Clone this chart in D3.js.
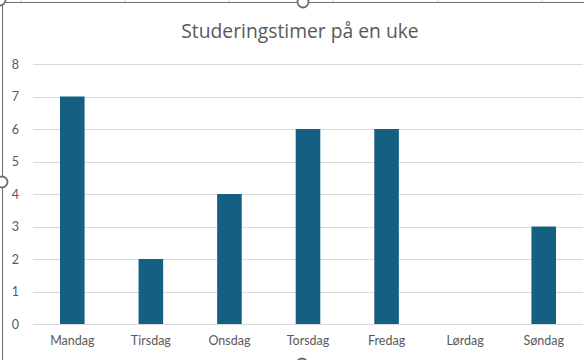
<!DOCTYPE html>
<html><head><meta charset="utf-8">
<script src="https://cdn.jsdelivr.net/npm/d3@7/dist/d3.min.js"></script>
<style>body{margin:0;background:#fff;}svg{display:block;}</style>
</head><body>
<script>
const categories = ["Mandag","Tirsdag","Onsdag","Torsdag","Fredag","Lørdag","Søndag"];
const values = [7,2,4,6,6,0,3];
const yTicks = [0,1,2,3,4,5,6,7,8];
const title = "Studeringstimer på en uke";

const W = 585, H = 360;
const svg = d3.select("body").append("svg").attr("width", W).attr("height", H);
const font = "Lato, 'Open Sans', sans-serif";
const titleFont = "'Open Sans', Lato, sans-serif";

// spreadsheet grid peeking above chart
const sheetCols = [21,125,229,333,438,542];
svg.selectAll("line.sheet").data(sheetCols).enter().append("line")
  .attr("x1", d=>d).attr("x2", d=>d).attr("y1", 0).attr("y2", 2)
  .attr("stroke", "#d4d4d4").attr("stroke-width", 1);

const x = d3.scaleBand().domain(categories).range([33, 583]).paddingInner(0.687).paddingOuter(0.3435);
const y = d3.scaleLinear().domain([0, 8]).range([324, 64]);

// gridlines
svg.append("g").selectAll("line").data(yTicks).enter().append("line")
  .attr("x1", 33).attr("x2", 583)
  .attr("y1", d => Math.round(y(d)) + 0.5).attr("y2", d => Math.round(y(d)) + 0.5)
  .attr("stroke", "#d9d9d9").attr("stroke-width", 1);

// y axis labels
const yAxis = d3.axisLeft(y).tickValues(yTicks).tickSize(0).tickPadding(0).tickFormat(d3.format("d"));
const ga = svg.append("g").attr("transform", "translate(19,0)").call(yAxis);
ga.select(".domain").remove();
ga.selectAll("text").attr("fill", "#595959").style("font-family", font).style("font-size", "12.5px");

// bars
svg.append("g").selectAll("rect").data(values).enter().append("rect")
  .attr("x", (d,i) => x(categories[i]))
  .attr("width", x.bandwidth())
  .attr("y", d => y(d))
  .attr("height", d => y(0) - y(d))
  .attr("fill", "#156082");

// x axis labels
const xAxis = d3.axisBottom(x).tickSize(0).tickPadding(0);
const gx = svg.append("g").attr("transform", "translate(0,336)").call(xAxis);
gx.select(".domain").remove();
gx.selectAll("text").attr("fill", "#595959").style("font-family", font).style("font-size", "12.5px");

// title
svg.append("text").attr("x", 300).attr("y", 38).attr("text-anchor", "middle")
  .attr("fill", "#595959").style("font-family", titleFont).style("font-size", "19.3px")
  .text(title);

// chart border (selected)
svg.append("line").attr("x1", 2.5).attr("x2", 584).attr("y1", 2.5).attr("y2", 2.5).attr("stroke", "#6e6e6e").attr("stroke-width", 1);
svg.append("line").attr("x1", 2.5).attr("x2", 2.5).attr("y1", 2.5).attr("y2", 360).attr("stroke", "#6e6e6e").attr("stroke-width", 1);

// selection handles
const handles = [[0,0],[303,2],[2,182],[302,364]];
svg.selectAll("circle.h").data(handles).enter().append("circle")
  .attr("cx", d=>d[0]).attr("cy", d=>d[1]).attr("r", 5.5)
  .attr("fill", "#fff").attr("stroke", "#6e6e6e").attr("stroke-width", 1.8);
</script>
</body></html>
